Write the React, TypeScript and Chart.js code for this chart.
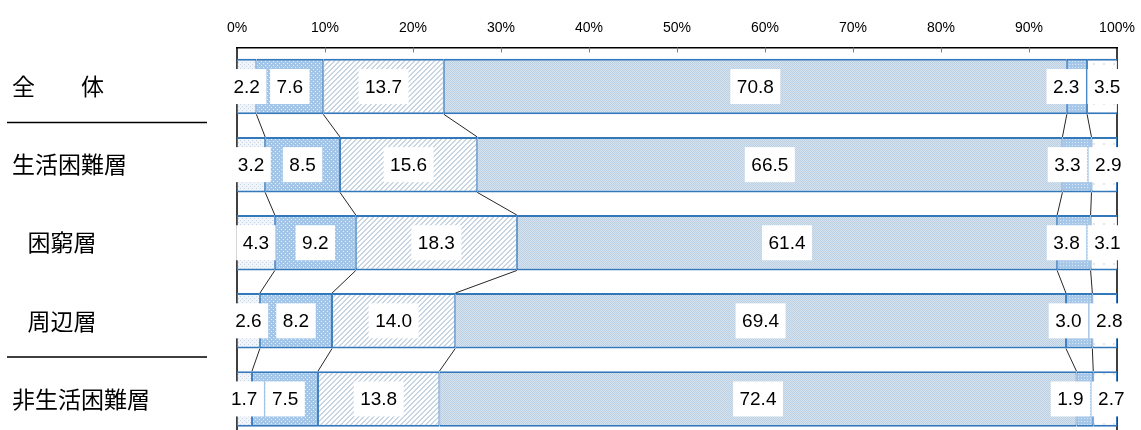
import React, { useEffect, useRef } from 'react';
import { Chart, registerables } from 'chart.js';

Chart.register(...registerables);

const categories = ['全　　体', '生活困難層', '困窮層', '周辺層', '非生活困難層'];
const indentedRows = [2, 3];
const separatorAfterRows = [0, 3];

const series1 = [2.2, 3.2, 4.3, 2.6, 1.7];
const series2 = [7.6, 8.5, 9.2, 8.2, 7.5];
const series3 = [13.7, 15.6, 18.3, 14.0, 13.8];
const series4 = [70.8, 66.5, 61.4, 69.4, 72.4];
const series5 = [2.3, 3.3, 3.8, 3.0, 1.9];
const series6 = [3.5, 2.9, 3.1, 2.8, 2.7];
const seriesNames = ['区分1', '区分2', '区分3', '区分4', '区分5', '区分6'];

const xMin = 0;
const xMax = 100;
const xStep = 10;

function makePattern(size: number, bg: string, paint: (c: CanvasRenderingContext2D) => void) {
  const cv = document.createElement('canvas');
  cv.width = size;
  cv.height = size;
  const c = cv.getContext('2d')!;
  c.fillStyle = bg;
  c.fillRect(0, 0, size, size);
  paint(c);
  return c.createPattern(cv, 'repeat')!;
}

function buildPatterns() {
  const p1 = makePattern(4, '#F1F5F9', (c) => {
    c.fillStyle = '#C6D5E5';
    c.fillRect(0, 0, 1, 1);
    c.fillRect(2, 2, 1, 1);
  });
  const p2 = makePattern(4, '#A3C5E7', (c) => {
    c.fillStyle = '#E4EFFA';
    c.fillRect(1, 1, 1, 1);
    c.fillRect(3, 3, 1, 1);
  });
  const p3 = makePattern(5, '#FFFFFF', (c) => {
    c.fillStyle = '#C8D6E4';
    for (let x = 0; x < 5; x++) {
      c.fillRect(x, 4 - x, 1, 1);
      c.fillRect(x, (5 - x) % 5, 1, 1);
    }
  });
  const p4 = makePattern(2, '#D6E2EE', (c) => {
    c.fillStyle = '#BCD0E4';
    c.fillRect(0, 0, 1, 1);
    c.fillRect(1, 1, 1, 1);
  });
  const p5 = makePattern(3, '#A6C7E8', (c) => {
    c.fillStyle = '#DAE9F7';
    c.fillRect(1, 1, 1, 1);
  });
  const p6 = makePattern(10, '#FFFFFF', (c) => {
    c.fillStyle = '#E6E6E6';
    c.fillRect(3, 3, 2, 2);
  });
  return [p1, p2, p3, p4, p5, p6];
}

const framePlugin = {
  id: 'frameAndTicks',
  beforeDatasetsDraw(chart: any) {
    const { ctx, chartArea, scales } = chart;
    ctx.save();
    ctx.strokeStyle = '#000000';
    ctx.lineWidth = 1.5;
    ctx.beginPath();
    ctx.moveTo(chartArea.left, chartArea.top);
    ctx.lineTo(chartArea.left, chartArea.bottom);
    ctx.moveTo(chartArea.right, chartArea.top);
    ctx.lineTo(chartArea.right, chartArea.bottom);
    ctx.stroke();
    ctx.strokeStyle = '#7F7F7F';
    ctx.lineWidth = 1;
    ctx.beginPath();
    for (let v = xMin + xStep; v < xMax; v += xStep) {
      const x = Math.round(scales.x.getPixelForValue(v)) + 0.5;
      ctx.moveTo(x, chartArea.top);
      ctx.lineTo(x, chartArea.top + 5);
    }
    ctx.stroke();
    ctx.strokeStyle = '#000000';
    ctx.lineWidth = 1.5;
    ctx.beginPath();
    separatorAfterRows.forEach((r) => {
      const y = (scales.y.getPixelForValue(r) + scales.y.getPixelForValue(r + 1)) / 2 - 3;
      ctx.moveTo(7, y);
      ctx.lineTo(207, y);
    });
    ctx.stroke();
    ctx.restore();
  },
};

const connectorPlugin = {
  id: 'seriesLines',
  afterDatasetsDraw(chart: any) {
    const { ctx } = chart;
    const n = chart.data.labels.length;
    const dsCount = chart.data.datasets.length;
    ctx.save();
    ctx.strokeStyle = '#262626';
    ctx.lineWidth = 1;
    ctx.beginPath();
    for (let di = 0; di < dsCount - 1; di++) {
      const meta = chart.getDatasetMeta(di);
      for (let r = 0; r < n - 1; r++) {
        const a = meta.data[r].getProps(['x', 'y', 'height'], true);
        const b = meta.data[r + 1].getProps(['x', 'y', 'height'], true);
        ctx.moveTo(a.x, a.y + a.height / 2);
        ctx.lineTo(b.x, b.y - b.height / 2);
      }
    }
    ctx.stroke();
    ctx.restore();
  },
};

const labelPlugin = {
  id: 'valueLabels',
  afterDatasetsDraw(chart: any) {
    const { ctx } = chart;
    const n = chart.data.labels.length;
    ctx.save();
    ctx.font = '19px "Liberation Sans", Arial, sans-serif';
    ctx.textAlign = 'center';
    ctx.textBaseline = 'middle';
    const boxH = 35;
    for (let r = 0; r < n; r++) {
      const items = chart.data.datasets.map((ds: any, di: number) => {
        const el = chart.getDatasetMeta(di).data[r].getProps(['x', 'y', 'base'], true);
        const text = Number(ds.data[r]).toFixed(1);
        const w = ctx.measureText(text).width + 13;
        return { cx: (el.x + el.base) / 2, cy: el.y, text, w };
      });
      for (let i = 0; i < items.length - 1; i++) {
        const a = items[i];
        const b = items[i + 1];
        const minD = (a.w + b.w) / 2 + 1.5;
        const d = b.cx - a.cx;
        if (d < minD) {
          const need = minD - d;
          b.cx += need * 0.3;
          a.cx -= need * 0.7;
        }
      }
      items.forEach((it: any) => {
        ctx.fillStyle = '#FFFFFF';
        ctx.fillRect(it.cx - it.w / 2, it.cy - boxH / 2, it.w, boxH);
        ctx.fillStyle = '#000000';
        ctx.fillText(it.text, it.cx, it.cy + 1);
      });
    }
    ctx.restore();
  },
};

export default function App() {
  const ref = useRef<HTMLCanvasElement | null>(null);

  useEffect(() => {
    document.body.style.margin = '0';
    const canvas = ref.current!;
    const patterns = buildPatterns();
    const allSeries = [series1, series2, series3, series4, series5, series6];
    const chart = new Chart(canvas, {
      type: 'bar',
      data: {
        labels: categories,
        datasets: allSeries.map((d, i) => ({
          label: seriesNames[i],
          data: d,
          backgroundColor: patterns[i],
          borderColor: '#3478BC',
          borderWidth: { top: 2, bottom: 2, left: 1, right: 1 },
          borderSkipped: false,
          barPercentage: 0.71,
          categoryPercentage: 1,
        })),
      },
      options: {
        indexAxis: 'y',
        responsive: false,
        animation: false,
        events: [],
        layout: { padding: { left: 12, right: 24, top: 0, bottom: 0 } },
        plugins: { legend: { display: false }, tooltip: { enabled: false } },
        scales: {
          x: {
            type: 'linear',
            position: 'top',
            stacked: true,
            min: xMin,
            max: xMax,
            grid: { display: false, drawTicks: false },
            border: { display: true, color: '#000000', width: 1.5 },
            ticks: {
              stepSize: xStep,
              padding: 11,
              color: '#000000',
              font: { family: '"Liberation Sans Narrow", "Liberation Sans", Arial, sans-serif', size: 14 },
              callback: (v: any) => v + '%',
            },
            afterFit: (s: any) => {
              s.height = 47.5;
              s.paddingLeft = 0;
              s.paddingRight = 0;
            },
          },
          y: {
            type: 'category',
            stacked: true,
            grid: { display: false, drawTicks: false },
            border: { display: false },
            ticks: {
              crossAlign: 'far',
              color: '#000000',
              autoSkip: false,
              font: { family: '"Noto Sans CJK JP", sans-serif', size: 23 },
              callback: (_v: any, i: number) => (indentedRows.includes(i) ? '   ' : '') + categories[i],
            },
            afterFit: (s: any) => {
              s.width = 225;
              s.paddingTop = 0;
              s.paddingBottom = 0;
            },
          },
        },
      },
      plugins: [framePlugin, connectorPlugin, labelPlugin],
    });
    return () => chart.destroy();
  }, []);

  return (
    <div style={{ width: 1141, height: 430, overflow: 'hidden', background: '#FFFFFF' }}>
      <canvas ref={ref} width={1141} height={438} style={{ display: 'block' }} />
    </div>
  );
}
